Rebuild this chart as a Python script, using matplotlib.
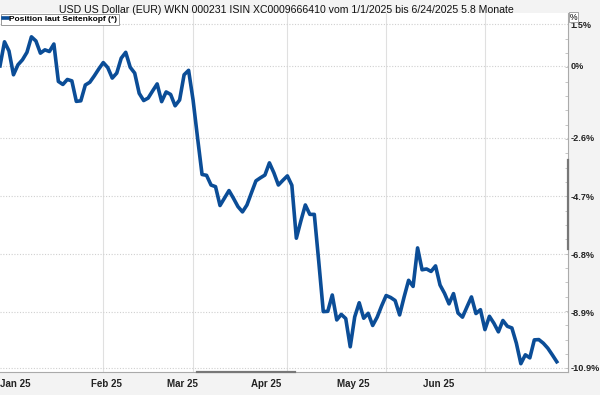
import numpy as np
import pandas as pd
import matplotlib
matplotlib.use("Agg")
import matplotlib.pyplot as plt
import matplotlib.transforms as mtransforms

# daily performance in % (business days 1/1/2025 .. 6/24/2025)
dates = pd.bdate_range("2025-01-01", "2025-06-24")
perf = [
    0.00, 0.87, 0.54, -0.32, 0.04, 0.22, 0.49, 1.05, 0.90, 0.46,
    0.58, 0.52, 0.79, -0.56, -0.67, -0.49, -0.54, -1.28, -1.26, -0.69,
    -0.59, -0.36, -0.11, 0.12, -0.06, -0.44, -0.26, 0.28, 0.49, -0.05,
    -0.26, -0.99, -1.25, -1.16, -0.90, -0.65, -1.29, -0.94, -1.03, -1.44,
    -1.23, -0.32, -0.16, -1.23, -2.60, -3.92, -3.95, -4.30, -4.36, -5.04,
    -4.77, -4.50, -4.78, -5.08, -5.27, -5.02, -4.58, -4.15, -4.04, -3.94,
    -3.50, -3.86, -4.30, -4.13, -3.97, -4.31, -6.22, -5.60, -5.02, -5.36,
    -5.36, -7.08, -8.87, -8.86, -8.27, -9.17, -8.97, -9.12, -10.14, -9.06,
    -8.55, -9.11, -8.93, -9.37, -9.07, -8.66, -8.29, -8.36, -8.47, -8.99,
    -8.34, -7.74, -7.96, -6.57, -7.36, -7.33, -7.42, -7.22, -7.91, -8.21,
    -8.59, -8.22, -8.92, -9.07, -8.70, -8.34, -8.94, -8.80, -9.52, -9.04,
    -9.29, -9.60, -9.19, -9.40, -9.46, -10.01, -10.75, -10.43, -10.54, -9.89,
    -9.88, -10.01, -10.19, -10.43, -10.68,
]
y_ticks = [1.5, 0.0, -2.6, -4.7, -6.8, -8.9, -10.9]
y_labels = ["1.5%", "0%", "-2.6%", "-4.7%", "-6.8%", "-8.9%", "-10.9%"]
month_labels = ["Jan 25", "Feb 25", "Mar 25", "Apr 25", "May 25", "Jun 25"]
month_label_pos = [0, 20.2, 37.3, 55.8, 75.1, 94.2]

title = ("USD US Dollar (EUR) WKN 000231 ISIN XC0009666410 "
         "vom 1/1/2025 bis 6/24/2025 5.8 Monate")

plt.rcParams["font.family"] = ["Liberation Sans", "DejaVu Sans"]

x = np.arange(len(dates))
month_starts = [i for i in range(1, len(dates)) if dates[i].month != dates[i - 1].month]

fig = plt.figure(figsize=(6, 3.95), dpi=100, facecolor="#f3f3f3")
ax = fig.add_axes([0.0, 23 / 395, 568 / 600, 359 / 395])
ax.set_facecolor("white")

ax.plot(x, perf, color="#0b4d97", lw=2.6, solid_joinstyle="round",
        label="Position laut Seitenkopf (*)", zorder=3)

ax.set_xlim(0, 126.5)
ax.set_ylim(-11.05, 1.91)

# y axis on the right
ax.yaxis.tick_right()
ax.set_yticks(y_ticks)
ax.set_yticklabels(y_labels, fontsize=6.6, fontweight="bold", color="#222222")
ax.set_yticks(np.arange(1.5, -11.1, -2.07 / 4), minor=True)
ax.tick_params(axis="y", which="major", length=0, pad=2)
ax.tick_params(axis="y", which="minor", length=2, color="#bbbbbb", direction="in")
ax.grid(axis="y", which="major", color="#d0d0d0", lw=0.8, ls=(0, (1, 1.5)))

# x axis: labels and month gridlines
ax.set_xticks(month_label_pos)
ax.set_xticklabels(month_labels, fontsize=7, fontweight="bold",
                   color="#222222", ha="left")
ax.tick_params(axis="x", which="major", length=0, pad=5)
ax.set_xticks(month_starts, minor=True)
ax.tick_params(axis="x", which="minor", length=0)
ax.grid(axis="x", which="minor", color="#e0e0e0", lw=0.8)

for side in ["left", "top"]:
    ax.spines[side].set_visible(False)
ax.spines["right"].set_color("#aaaaaa")
ax.spines["bottom"].set_color("#aaaaaa")

# darker range markers on the axes
tr_y = mtransforms.blended_transform_factory(ax.transAxes, ax.transData)
ax.plot([1, 1], [-3.4, -6.6], color="#777777", lw=1.6, transform=tr_y,
        clip_on=False, zorder=4)
tr_x = mtransforms.blended_transform_factory(ax.transData, ax.transAxes)
ax.plot([43.8, 65.8], [0, 0], color="#777777", lw=1.6, transform=tr_x,
        clip_on=False, zorder=4)

leg = ax.legend(loc="upper left", bbox_to_anchor=(0, 1.0),
                prop={"weight": "bold", "size": 6}, frameon=True,
                fancybox=False, edgecolor="#999999", framealpha=1,
                handlelength=0.6, handletextpad=0.2, borderpad=0.2,
                borderaxespad=0.1)
leg.get_frame().set_linewidth(0.7)

fig.text(0.477, 0.988, title, ha="center", va="top", fontsize=7.6,
         color="#111111")
fig.text(0.949, 0.968, "%", ha="left", va="top", fontsize=6.2,
         bbox={"facecolor": "white", "edgecolor": "#999999", "pad": 0.5,
               "linewidth": 0.6})

plt.savefig("out.png", dpi=100, facecolor=fig.get_facecolor())
